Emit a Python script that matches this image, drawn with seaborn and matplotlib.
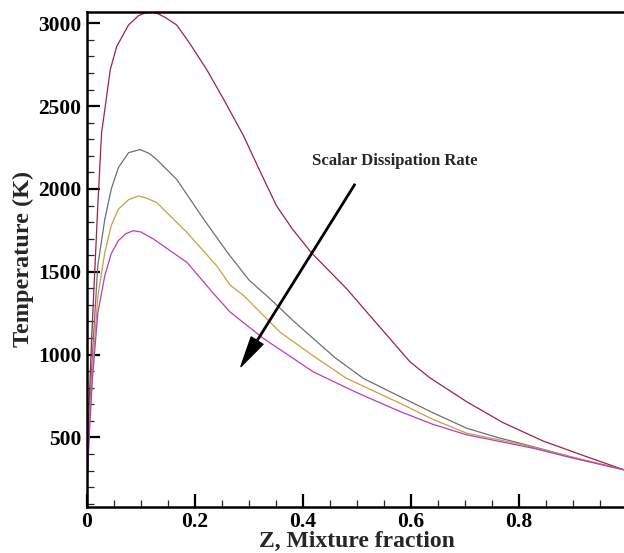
import pandas as pd
import matplotlib
matplotlib.use("Agg")
import matplotlib.pyplot as plt
import seaborn as sns
from matplotlib.ticker import MultipleLocator

# Temperature profiles vs mixture fraction, one per scalar dissipation rate
z_red = [0, 0.004, 0.008, 0.012, 0.02, 0.027, 0.033, 0.043, 0.055, 0.077, 0.095,
         0.107, 0.118, 0.129, 0.145, 0.166, 0.19, 0.222, 0.255, 0.29, 0.32, 0.351,
         0.38, 0.415, 0.45, 0.481, 0.52, 0.56, 0.598, 0.635, 0.703, 0.77, 0.845,
         0.92, 0.994]
t_red = [200, 700, 1050, 1337, 1900, 2339, 2479, 2719, 2860, 2990, 3045,
         3062, 3068, 3062, 3035, 2990, 2880, 2719, 2530, 2320, 2110, 1898,
         1760, 1617, 1500, 1397, 1250, 1100, 957, 860, 716, 590, 478,
         390, 305]

z_gray = [0, 0.004, 0.01, 0.02, 0.033, 0.045, 0.058, 0.077, 0.098, 0.115, 0.129,
          0.166, 0.216, 0.26, 0.3, 0.338, 0.38, 0.419, 0.46, 0.512, 0.58, 0.64,
          0.703, 0.76, 0.814, 0.9, 0.994]
t_gray = [200, 600, 1000, 1537, 1818, 2000, 2128, 2219, 2238, 2215, 2178,
          2058, 1818, 1617, 1450, 1340, 1210, 1097, 980, 856, 746, 650,
          556, 500, 455, 380, 305]

z_gold = [0, 0.004, 0.01, 0.02, 0.033, 0.045, 0.058, 0.077, 0.095, 0.11, 0.129,
          0.185, 0.24, 0.265, 0.29, 0.357, 0.42, 0.481, 0.58, 0.64, 0.703, 0.808,
          0.9, 0.994]
t_gold = [200, 550, 900, 1350, 1617, 1780, 1878, 1935, 1958, 1945, 1918,
          1738, 1537, 1420, 1357, 1137, 990, 856, 706, 610, 526, 455,
          380, 305]

z_mag = [0, 0.004, 0.01, 0.02, 0.033, 0.045, 0.058, 0.072, 0.086, 0.1, 0.123,
         0.185, 0.234, 0.265, 0.327, 0.419, 0.5, 0.58, 0.64, 0.703, 0.826, 0.9,
         0.994]
t_mag = [200, 500, 850, 1250, 1477, 1610, 1688, 1730, 1748, 1740, 1698,
         1557, 1370, 1257, 1097, 896, 770, 656, 580, 516, 435, 375,
         305]

curve_names = ["chi1", "chi2", "chi3", "chi4"]
curve_colors = ["#9c2440", "#6e6e78", "#c8a040", "#b83cc0"]

frames = []
for name, z, t in zip(curve_names, [z_red, z_gray, z_gold, z_mag],
                      [t_red, t_gray, t_gold, t_mag]):
    frames.append(pd.DataFrame({"Z": z, "T": t, "curve": name}))
data = pd.concat(frames, ignore_index=True)

sns.set_style("ticks")
plt.rcParams["font.family"] = ["Liberation Serif", "DejaVu Serif"]
plt.rcParams["font.weight"] = "bold"

fig = plt.figure(figsize=(6.24, 5.53), dpi=100)
ax = fig.add_axes([87 / 624, 1 - 506.7 / 553, 540 / 624, 495 / 553])

sns.lineplot(data=data, x="Z", y="T", hue="curve", palette=curve_colors,
             linewidth=0.9, legend=False, sort=False, estimator=None, ax=ax)

ax.set_xlim(0, 1)
ax.set_ylim(82, 3070)
ax.set_xticks([0, 0.2, 0.4, 0.6, 0.8])
ax.set_xticklabels(["0", "0.2", "0.4", "0.6", "0.8"])
ax.xaxis.set_minor_locator(MultipleLocator(0.05))
ax.set_yticks([500, 1000, 1500, 2000, 2500, 3000])
ax.yaxis.set_minor_locator(MultipleLocator(100))

ax.tick_params(which="major", direction="in", length=9.5, width=1.6,
               labelsize=15.5, pad=4, colors="black")
ax.tick_params(which="minor", direction="in", length=5, width=0.9)
for lbl in ax.get_xticklabels() + ax.get_yticklabels():
    lbl.set_fontweight("bold")

for side in ["left", "bottom", "top"]:
    ax.spines[side].set_linewidth(1.8)
    ax.spines[side].set_color("black")
ax.spines["right"].set_visible(False)

ax.set_xlabel("Z, Mixture fraction", fontsize=17, fontweight="bold", labelpad=-1)
ax.set_ylabel("Temperature (K)", fontsize=17.5, fontweight="bold", labelpad=3)

ax.annotate("", xy=(0.285, 928), xytext=(0.496, 2028),
            arrowprops=dict(width=1.0, headwidth=10, headlength=22,
                            facecolor="black", edgecolor="black", shrink=0))
ax.text(0.57, 2166, "Scalar Dissipation Rate", fontsize=12, fontweight="bold",
        ha="center", va="center")

fig.savefig("out.png", dpi=100)
